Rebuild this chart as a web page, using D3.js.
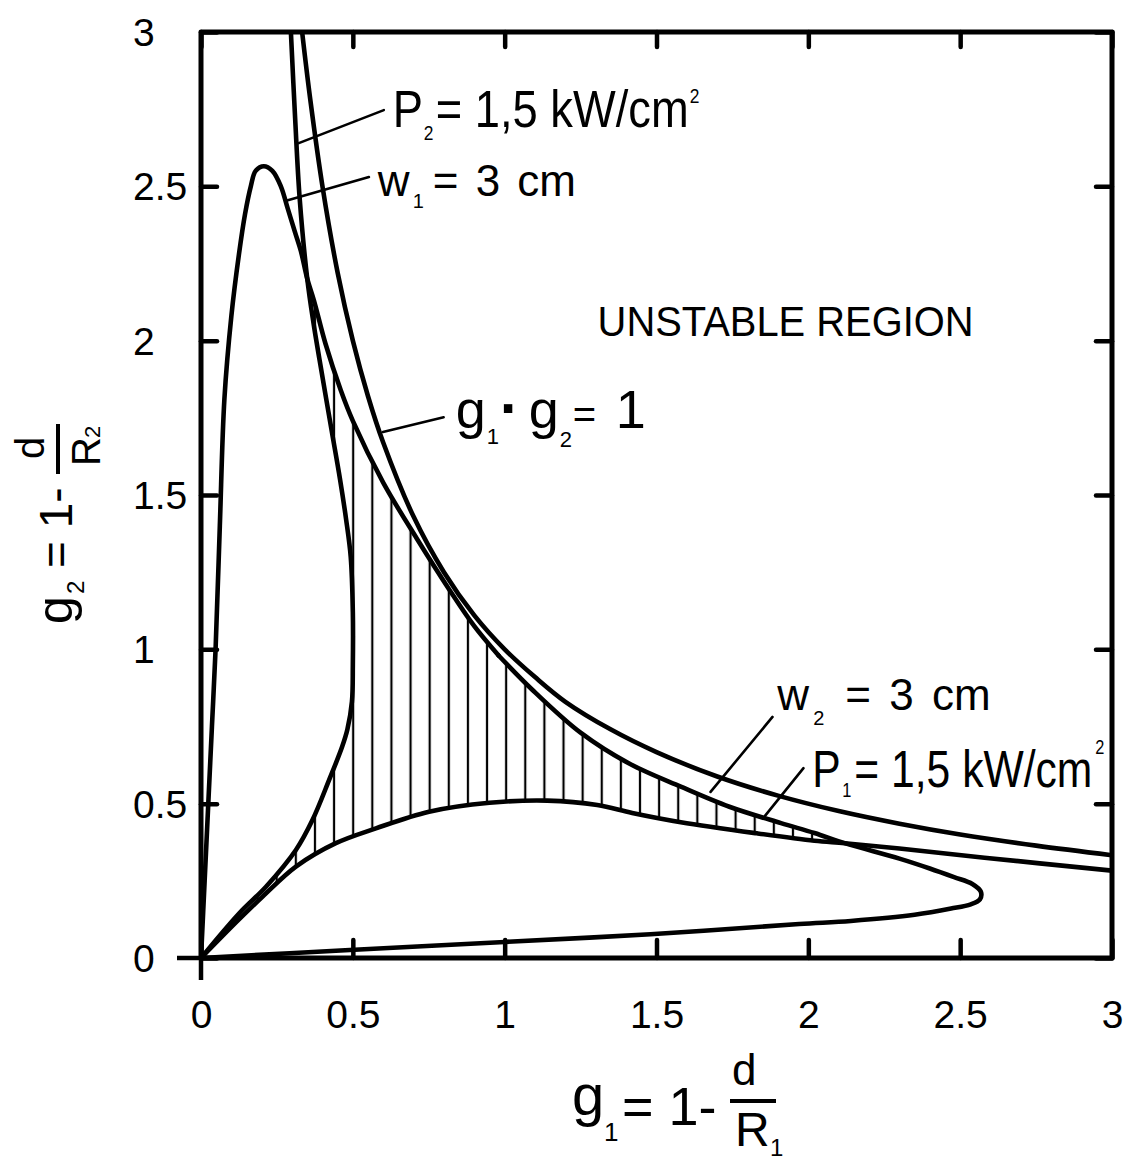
<!DOCTYPE html>
<html><head><meta charset="utf-8">
<script src="https://cdn.jsdelivr.net/npm/d3@7"></script>
<style>
body{margin:0;background:#fff}
svg{display:block}
text{font-family:"Liberation Sans",Arial,sans-serif;fill:#000}
</style>
</head><body>
<svg id="c" width="1129" height="1164"></svg>
<script>
// ---- data (g1, g2) ----
const xTicks=[0,0.5,1,1.5,2,2.5,3];
const xTickLabels=["0","0.5","1","1.5","2","2.5","3"];
const yTicks=[0,0.5,1,1.5,2,2.5,3];
const yTickLabels=["0","0.5","1","1.5","2","2.5","3"];

// g1 * g2 = 1 stability limit
const hyperbola=[[0.333,3.0],[0.36,2.78],[0.4,2.5],[0.45,2.22],[0.5,2.0],[0.55,1.82],[0.6,1.67],[0.7,1.43],[0.8,1.25],[0.9,1.11],[1.0,1.0],[1.1,0.91],[1.2,0.83],[1.35,0.74],[1.5,0.667],[1.7,0.588],[1.9,0.526],[2.1,0.476],[2.3,0.435],[2.5,0.4],[2.75,0.364],[3.0,0.333]];
// P2 = 1.5 kW/cm2
const curveP2=[[0.296,3.0],[0.31,2.72],[0.325,2.46],[0.35,2.2],[0.37,2.06],[0.39,1.94],[0.43,1.71],[0.458,1.55],[0.478,1.42],[0.493,1.3],[0.5,1.12],[0.5,0.95],[0.497,0.83],[0.482,0.74],[0.465,0.685],[0.422,0.577],[0.367,0.447],[0.3125,0.35],[0.214,0.231],[0.126,0.145],[0,0]];
// w1 = 3 cm
const curveW1=[[0,0],[0.012,0.25],[0.024,0.5],[0.036,0.75],[0.048,1.0],[0.062,1.4],[0.077,1.81],[0.1,2.08],[0.125,2.28],[0.145,2.41],[0.164,2.5],[0.18,2.55],[0.207,2.565],[0.235,2.55],[0.263,2.5],[0.285,2.43],[0.31,2.35],[0.329,2.29],[0.35,2.2],[0.372,2.13],[0.41,1.99],[0.46,1.84],[0.5,1.74],[0.6,1.54],[0.71,1.36],[0.82,1.19],[0.9,1.075],[0.98,0.98]];
// w2 = 3 cm
const curveW2=[[0.98,0.98],[1.09,0.87],[1.25,0.73],[1.41,0.63],[1.58,0.555],[1.74,0.49],[1.91,0.437],[2.02,0.405],[2.12,0.372],[2.3,0.322],[2.4,0.29],[2.48,0.262],[2.54,0.24],[2.568,0.215],[2.565,0.19],[2.535,0.174],[2.47,0.16],[2.35,0.14],[2.14,0.12],[1.97,0.11],[1.48,0.077],[1.0,0.052],[0.49,0.026],[0,0]];
// P1 = 1.5 kW/cm2
const curveP1=[[0,0],[0.12,0.12],[0.203,0.199],[0.3125,0.296],[0.444,0.372],[0.576,0.42],[0.751,0.474],[0.95,0.503],[1.14,0.51],[1.305,0.496],[1.42,0.47],[1.58,0.44],[1.83,0.404],[2.02,0.38],[2.12,0.372],[2.3,0.355],[2.58,0.325],[3.0,0.283]];
// crossing points bounding the hatched (stable, allowed) region
const crossP2W1=[0.35,2.2], crossW1W2=[0.98,0.98], crossW2P1=[2.12,0.372];

// leader lines [g1a,g2a,g1b,g2b]
const leaders=[[0.602,2.747,0.322,2.640],[0.553,2.530,0.286,2.455],[0.799,1.752,0.599,1.704],[1.882,0.781,1.678,0.538],[1.984,0.615,1.852,0.454]];

// ---- drawing ----
const svg=d3.select("#c");
const x=d3.scaleLinear().domain([0,3]).range([201,1112]);
const y=d3.scaleLinear().domain([0,3]).range([958,32]);
const line=d3.line().x(d=>x(d[0])).y(d=>y(d[1])).curve(d3.curveCatmullRom.alpha(0.5));

const defs=svg.append("defs");
const pat=defs.append("pattern").attr("id","hatch").attr("patternUnits","userSpaceOnUse")
  .attr("x",267.15).attr("y",0).attr("width",19.12).attr("height",20);
pat.append("line").attr("x1",9.56).attr("x2",9.56).attr("y1",0).attr("y2",20).attr("stroke","#000").attr("stroke-width",2.2);
defs.append("clipPath").attr("id","plot").append("rect").attr("x",x(0)).attr("y",y(3)).attr("width",x(3)-x(0)).attr("height",y(0)-y(3));

const same=(a,b)=>a[0]===b[0]&&a[1]===b[1];
const idx=(arr,p)=>arr.findIndex(d=>same(d,p));
const seg1=curveP2.slice(idx(curveP2,crossP2W1)).reverse();
const seg2=curveW1.slice(idx(curveW1,crossP2W1),idx(curveW1,crossW1W2)+1);
const seg3=curveW2.slice(0,idx(curveW2,crossW2P1)+1);
const seg4=curveP1.slice(0,idx(curveP1,crossW2P1)+1).reverse();
const hatchPath=[seg1,seg2,seg3,seg4].map((s,i)=>{const d=line(s);return i?d.replace(/^M/,"L"):d;}).join("")+"Z";
svg.append("path").attr("d",hatchPath).attr("fill","url(#hatch)").attr("stroke","none");

const curves=svg.append("g").attr("clip-path","url(#plot)");
[hyperbola,curveP2,curveW1,curveW2,curveP1].forEach(c=>{
  curves.append("path").attr("d",line(c)).attr("fill","none").attr("stroke","#000")
    .attr("stroke-width",4.6).attr("stroke-linejoin","round").attr("stroke-linecap","round");
});

// leader lines
svg.append("g").selectAll("line").data(leaders).join("line")
  .attr("x1",d=>x(d[0])).attr("y1",d=>y(d[1])).attr("x2",d=>x(d[2])).attr("y2",d=>y(d[3]))
  .attr("stroke","#000").attr("stroke-width",2.6).attr("stroke-linecap","round");

// axes (ticks pointing inward)
function styleAxis(g){g.select(".domain").remove();g.selectAll(".tick line").attr("stroke","#000").attr("stroke-width",4.5).attr("stroke-linecap","round");}
svg.append("g").attr("transform",`translate(0,${y(0)})`)
  .call(d3.axisBottom(x).tickValues(xTicks).tickFormat((d,i)=>xTickLabels[i]).tickSize(-18))
  .call(styleAxis)
  .call(g=>g.selectAll("text").attr("y",70).attr("dy",0).attr("font-size",39).attr("fill","#000"));
svg.append("g").attr("transform",`translate(0,${y(3)})`)
  .call(d3.axisTop(x).tickValues(xTicks).tickFormat("").tickSize(-15)).call(styleAxis);
svg.append("g").attr("transform",`translate(${x(0)},0)`)
  .call(d3.axisLeft(y).tickValues(yTicks).tickFormat((d,i)=>yTickLabels[i]).tickSize(-16))
  .call(styleAxis)
  .call(g=>g.selectAll("text").attr("x",-68).attr("dy","0.35em").attr("text-anchor","start").attr("font-size",39).attr("fill","#000"));
svg.append("g").attr("transform",`translate(${x(3)},0)`)
  .call(d3.axisRight(y).tickValues(yTicks).tickFormat("").tickSize(-16)).call(styleAxis);

// frame
svg.append("rect").attr("x",x(0)).attr("y",y(3)).attr("width",x(3)-x(0)).attr("height",y(0)-y(3))
  .attr("fill","none").attr("stroke","#000").attr("stroke-width",5).attr("stroke-linejoin","round");
// origin cross extension
svg.append("line").attr("x1",x(0)-24).attr("x2",x(0)).attr("y1",y(0)).attr("y2",y(0)).attr("stroke","#000").attr("stroke-width",4.5);
svg.append("line").attr("x1",x(0)).attr("x2",x(0)).attr("y1",y(0)).attr("y2",y(0)+22).attr("stroke","#000").attr("stroke-width",4.5);

// one text element per label; pieces are tspans placed relative to the anchor (px)
function rich(parent,ax,ay,sx,pieces){
  const t=parent.append("text").attr("transform",`translate(${ax},${ay}) scale(${sx},1)`);
  pieces.forEach(p=>{
    const s=t.append("tspan").attr("x",(p.dx||0)/sx).attr("y",p.dy||0).attr("font-size",p.s).text(p.t);
    if(p.w){s.attr("font-weight",p.w);}
    if(p.ws){s.attr("word-spacing",p.ws);}
  });
  return t;
}
// annotations anchored in data units
rich(svg,x(0.6316),y(2.692),0.871,[{t:"P",s:52},{t:"2",s:20,dx:31,dy:13},{t:"= 1,5 kW/cm",s:52,dx:43},{t:"2",s:20,dx:297,dy:-24}]);
rich(svg,x(0.582),y(2.468),1.0,[{t:"w",s:44},{t:"1",s:20,dx:35,dy:12},{t:"= 3 cm",s:44,dx:55,ws:5}]);
rich(svg,x(1.306),y(2.015),0.95,[{t:"UNSTABLE  REGION",s:42}]);
rich(svg,x(0.839),y(1.717),1.0,[{t:"g",s:54},{t:"1",s:22,dx:31,dy:16},{t:"·",s:60,dx:44,w:"bold"},{t:"g",s:54,dx:73},{t:"2",s:22,dx:104,dy:19},{t:"=",s:40,dx:117},{t:"1",s:54,dx:160}]);
rich(svg,x(1.898),y(0.803),1.0,[{t:"w",s:44},{t:"2",s:20,dx:36,dy:15},{t:"= 3 cm",s:44,dx:68,ws:6}]);
rich(svg,x(2.013),y(0.554),0.82,[{t:"P",s:52},{t:"1",s:20,dx:30,dy:10},{t:"= 1,5 kW/cm",s:52,dx:42},{t:"2",s:20,dx:283,dy:-33}]);

// x axis title
const xt=svg.append("g");
rich(xt,572,1115,1.0,[{t:"g",s:58},{t:"1",s:26,dx:32,dy:26},{t:"= 1-",s:54,dx:50,dy:10}]);
rich(xt,732,1085,1.0,[{t:"d",s:44}]);
xt.append("line").attr("x1",730).attr("x2",776).attr("y1",1101).attr("y2",1101).attr("stroke","#000").attr("stroke-width",4);
rich(xt,735,1146,1.0,[{t:"R",s:48},{t:"1",s:24,dx:35,dy:10}]);

// y axis title (rotated)
const yt=svg.append("g").attr("transform","translate(72,624) rotate(-90)");
rich(yt,0,0,1.0,[{t:"g",s:50},{t:"2",s:24,dx:30,dy:12},{t:"= 1-",s:46,dx:56}]);
rich(yt,165,-28,1.0,[{t:"d",s:40}]);
yt.append("line").attr("x1",150).attr("x2",200).attr("y1",-14).attr("y2",-14).attr("stroke","#000").attr("stroke-width",4);
rich(yt,158,28,1.0,[{t:"R",s:40},{t:"2",s:22,dx:28,dy:0}]);
</script>
</body></html>
